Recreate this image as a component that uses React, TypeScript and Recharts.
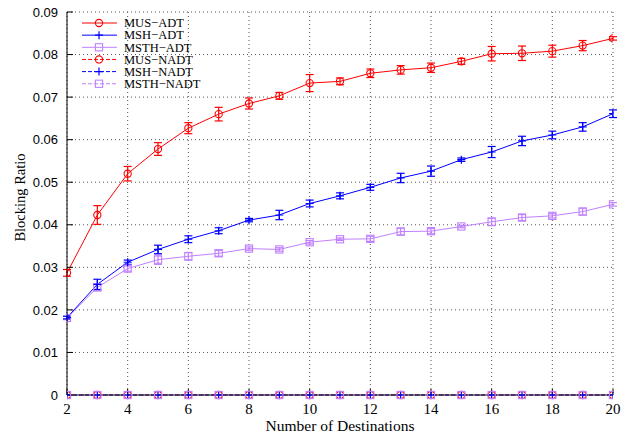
import React from "react";
import {
  LineChart,
  Line,
  XAxis,
  YAxis,
  CartesianGrid,
  ErrorBar,
} from "recharts";

/** Number of destinations (x axis). */
const DESTINATIONS = [2, 3, 4, 5, 6, 7, 8, 9, 10, 11, 12, 13, 14, 15, 16, 17, 18, 19, 20];

const MUS_ADT = [
  0.0287, 0.0423, 0.052, 0.0578, 0.0627, 0.066, 0.0685, 0.0703, 0.0733, 0.0737,
  0.0756, 0.0764, 0.0769, 0.0784, 0.0802, 0.0803, 0.0808, 0.0821, 0.0838,
];
const MUS_ADT_ERR = [
  0.0008, 0.0022, 0.0017, 0.0015, 0.0013, 0.0016, 0.0013, 0.0008, 0.002, 0.0008,
  0.001, 0.001, 0.0011, 0.0007, 0.0017, 0.0017, 0.0014, 0.0012, 0.0004,
];

const MSH_ADT = [
  0.0182, 0.026, 0.0312, 0.0342, 0.0366, 0.0386, 0.0411, 0.0423, 0.045, 0.0468,
  0.0488, 0.051, 0.0526, 0.0553, 0.0571, 0.0597, 0.0611, 0.063, 0.0661,
];
const MSH_ADT_ERR = [
  0.0003, 0.0012, 0.0005, 0.001, 0.0008, 0.0007, 0.0004, 0.0011, 0.0008, 0.0007,
  0.0007, 0.0011, 0.0012, 0.0004, 0.0013, 0.0011, 0.0009, 0.001, 0.0009,
];

const MSTH_ADT = [
  0.0181, 0.0253, 0.0297, 0.0318, 0.0326, 0.0333, 0.0344, 0.0342, 0.0359, 0.0366,
  0.0367, 0.0384, 0.0385, 0.0396, 0.0407, 0.0417, 0.0421, 0.0431, 0.0448,
];
const MSTH_ADT_ERR = [
  0.0004, 0.0008, 0.0006, 0.0011, 0.0009, 0.0007, 0.0004, 0.0004, 0.0004, 0.0003,
  0.0006, 0.0008, 0.0006, 0.0003, 0.0009, 0.0007, 0.0005, 0.0008, 0.0004,
];

/** NADT variants never block. */
const MUS_NADT = [0, 0, 0, 0, 0, 0, 0, 0, 0, 0, 0, 0, 0, 0, 0, 0, 0, 0, 0];
const MSH_NADT = [0, 0, 0, 0, 0, 0, 0, 0, 0, 0, 0, 0, 0, 0, 0, 0, 0, 0, 0];
const MSTH_NADT = [0, 0, 0, 0, 0, 0, 0, 0, 0, 0, 0, 0, 0, 0, 0, 0, 0, 0, 0];

const X_TICKS = [2, 4, 6, 8, 10, 12, 14, 16, 18, 20];
const Y_TICKS = [0, 0.01, 0.02, 0.03, 0.04, 0.05, 0.06, 0.07, 0.08, 0.09];

const RED = "#ff0000";
const BLUE = "#0000ff";
const LAVENDER = "#c080ff";
const SERIF = "'Liberation Serif', 'Times New Roman', serif";
const SANS = "'Liberation Sans', Arial, sans-serif";

type Marker = "circle" | "plus" | "square";

interface SeriesDef {
  key: string;
  name: string;
  color: string;
  marker: Marker;
  dashed: boolean;
  errKey?: string;
}

// drawn bottom to top
const SERIES: SeriesDef[] = [
  { key: "musNadt", name: "MUS\u2212NADT", color: RED, marker: "circle", dashed: true },
  { key: "mshNadt", name: "MSH\u2212NADT", color: BLUE, marker: "plus", dashed: true },
  { key: "msthNadt", name: "MSTH\u2212NADT", color: LAVENDER, marker: "square", dashed: true },
  { key: "msthAdt", name: "MSTH\u2212ADT", color: LAVENDER, marker: "square", dashed: false, errKey: "msthAdtErr" },
  { key: "mshAdt", name: "MSH\u2212ADT", color: BLUE, marker: "plus", dashed: false, errKey: "mshAdtErr" },
  { key: "musAdt", name: "MUS\u2212ADT", color: RED, marker: "circle", dashed: false, errKey: "musAdtErr" },
];

const LEGEND_ORDER = ["musAdt", "mshAdt", "msthAdt", "musNadt", "mshNadt", "msthNadt"];

const chartData = DESTINATIONS.map((x, i) => ({
  x,
  musAdt: MUS_ADT[i],
  musAdtErr: MUS_ADT_ERR[i],
  mshAdt: MSH_ADT[i],
  mshAdtErr: MSH_ADT_ERR[i],
  msthAdt: MSTH_ADT[i],
  msthAdtErr: MSTH_ADT_ERR[i],
  musNadt: MUS_NADT[i],
  mshNadt: MSH_NADT[i],
  msthNadt: MSTH_NADT[i],
}));

function MarkerShape({ kind, cx, cy, color }: { kind: Marker; cx: number; cy: number; color: string }) {
  if (kind === "circle") {
    return <circle cx={cx} cy={cy} r={3.6} fill="none" stroke={color} strokeWidth={1.1} />;
  }
  if (kind === "square") {
    return <rect x={cx - 3.6} y={cy - 3.6} width={7.2} height={7.2} fill="none" stroke={color} strokeWidth={1.1} />;
  }
  return (
    <path
      d={`M${cx - 4},${cy}H${cx + 4}M${cx},${cy - 4}V${cy + 4}`}
      stroke={color}
      strokeWidth={1.2}
      fill="none"
    />
  );
}

function makeDot(s: SeriesDef) {
  return (props: any) => {
    const { cx, cy, index } = props;
    if (cx == null || cy == null) return <g key={`${s.key}-${index}`} />;
    return (
      <g key={`${s.key}-${index}`}>
        <MarkerShape kind={s.marker} cx={cx} cy={cy} color={s.color} />
      </g>
    );
  };
}

/** Legend box in the upper-left corner of the plot, gnuplot style. */
function LegendBox() {
  const rows = LEGEND_ORDER.map((k) => SERIES.find((s) => s.key === k)!);
  return (
    <svg width={190} height={90} style={{ display: "block" }}>
      {rows.map((s, i) => {
        const y = 14 + i * 12.15;
        return (
          <g key={s.key}>
            <line
              x1={14}
              x2={49}
              y1={y}
              y2={y}
              stroke={s.color}
              strokeWidth={1}
              strokeDasharray={s.dashed ? "4 2" : undefined}
            />
            <MarkerShape kind={s.marker} cx={31} cy={y} color={s.color} />
            <text x={56} y={y + 4.2} fontFamily={SERIF} fontSize={12.5} fill="#000">
              {s.name}
            </text>
          </g>
        );
      })}
    </svg>
  );
}

/** Rotated y-axis title, sitting a little above the plot's mid-height like the original. */
function YTitle(props: any) {
  const { viewBox } = props;
  const cx = viewBox.x + 20;
  const cy = viewBox.y + viewBox.height / 2 - 6;
  return (
    <text
      x={cx}
      y={cy}
      transform={`rotate(-90, ${cx}, ${cy})`}
      textAnchor="middle"
      dominantBaseline="central"
      fontFamily={SERIF}
      fontSize={14.5}
      fill="#000"
    >
      Blocking Ratio
    </text>
  );
}

export default function App() {
  return (
    <div style={{ position: "absolute", left: 0, top: 0, width: 631, height: 433, background: "#fff" }}>
      <LineChart
        width={631}
        height={433}
        data={chartData}
        margin={{ top: 12, right: 18, left: 0, bottom: 0 }}
      >
        <CartesianGrid
          xAxisId="main"
          yAxisId="main"
          stroke="#555"
          strokeDasharray="1 3"
        />
        <XAxis
          xAxisId="main"
          dataKey="x"
          type="number"
          domain={[2, 20]}
          ticks={X_TICKS}
          allowDataOverflow
          height={38}
          stroke="#000"
          tickSize={-6}
          tickMargin={14}
          tick={{ fill: "#000", fontFamily: SERIF, fontSize: 15 }}
          label={{
            value: "Number of Destinations",
            position: "insideBottom",
            offset: 2,
            fill: "#000",
            fontFamily: SERIF,
            fontSize: 15.5,
          }}
        />
        <XAxis
          xAxisId="top"
          dataKey="x"
          type="number"
          orientation="top"
          domain={[2, 20]}
          ticks={X_TICKS}
          height={0}
          stroke="#000"
          tickSize={-6}
          tick={false}
        />
        <YAxis
          yAxisId="main"
          type="number"
          domain={[0, 0.09]}
          ticks={Y_TICKS}
          width={67}
          stroke="#000"
          tickSize={-6}
          tickMargin={15}
          tickFormatter={(v: number) => (v === 0 ? "0" : v.toFixed(2))}
          tick={{ fill: "#000", fontFamily: SANS, fontSize: 13 }}
          label={<YTitle />}
        />
        <YAxis
          yAxisId="right"
          type="number"
          orientation="right"
          domain={[0, 0.09]}
          ticks={Y_TICKS}
          width={0}
          stroke="#000"
          tickSize={-6}
          tick={false}
        />
        {SERIES.map((s) => (
          <Line
            key={s.key}
            xAxisId="main"
            yAxisId="main"
            dataKey={s.key}
            name={s.name}
            type="linear"
            stroke={s.color}
            strokeWidth={1}
            strokeDasharray={s.dashed ? "4 2" : undefined}
            dot={makeDot(s)}
            activeDot={false}
            isAnimationActive={false}
          >
            {s.errKey && (
              <ErrorBar dataKey={s.errKey} width={4} stroke={s.color} strokeWidth={1.2} direction="y" />
            )}
          </Line>
        ))}
      </LineChart>
      <div style={{ position: "absolute", left: 68, top: 9 }}>
        <LegendBox />
      </div>
    </div>
  );
}
